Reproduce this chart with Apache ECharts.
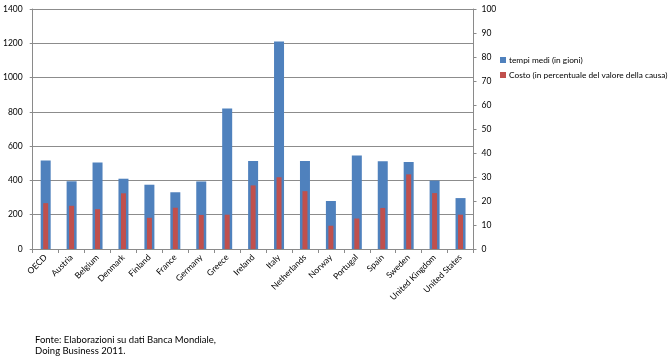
<!DOCTYPE html>
<html>
<head>
<meta charset="utf-8">
<script src="https://cdn.jsdelivr.net/npm/echarts@6/dist/echarts.min.js"></script>
<style>html,body{margin:0;padding:0;background:#fff;}#c{width:671px;height:364px;}</style>
</head>
<body>
<div id="c"></div>
<script>
const categories = ['OECD','Austria','Belgium','Denmark','Finland','France','Germany','Greece','Ireland','Italy','Netherlands','Norway','Portugal','Spain','Sweden','United Kingdom','United States'];
const tempiMedi = [516, 395, 505, 410, 375, 331, 394, 819, 513, 1210, 514, 280, 545, 512, 508, 399, 297];
const costo = [19.1, 18.0, 16.6, 23.2, 13.0, 17.2, 14.2, 14.3, 26.5, 29.9, 24.1, 9.7, 12.7, 17.1, 31.1, 23.3, 14.3];
const leftTicks = {min: 0, max: 1400, interval: 200};
const rightTicks = {min: 0, max: 100, interval: 10};
const sourceLines = ['Fonte: Elaborazioni su dati Banca Mondiale,', 'Doing Business 2011.'];

const FONT = 'Lato';
const chart = echarts.init(document.getElementById('c'));
const axisGray = '#8a8a8a';
chart.setOption({
  animation: false,
  textStyle: {fontFamily: FONT},
  grid: {left: 29.5, right: 197.5, top: 9, bottom: 115, containLabel: false},
  legend: {
    orient: 'vertical', left: 495, top: 51,
    icon: 'rect', itemWidth: 6, itemHeight: 6, itemGap: 7,
    textStyle: {fontFamily: FONT, fontSize: 8.3, color: '#000', padding: [0,0,0,-2]},
    data: ['tempi medi (in gioni)', 'Costo (in percentuale del valore della causa)']
  },
  xAxis: [{
    type: 'category', data: categories,
    axisLine: {lineStyle: {color: axisGray}},
    axisTick: {show: true, length: 4, lineStyle: {color: axisGray}},
    axisLabel: {rotate: 45, fontSize: 8.5, color: '#000', fontFamily: FONT, margin: 7, interval: 0}
  }, {
    type: 'category', data: categories, show: false
  }],
  yAxis: [{
    type: 'value', min: leftTicks.min, max: leftTicks.max, interval: leftTicks.interval,
    axisLine: {show: true, lineStyle: {color: axisGray}},
    axisTick: {show: true, length: 3, lineStyle: {color: axisGray}},
    axisLabel: {fontSize: 8.5, color: '#000', fontFamily: FONT, margin: 10, formatter: v => String(v)},
    splitLine: {lineStyle: {color: '#8c8c8c'}}
  }, {
    type: 'value', min: rightTicks.min, max: rightTicks.max, interval: rightTicks.interval,
    position: 'right',
    axisLine: {show: true, lineStyle: {color: axisGray}},
    axisTick: {show: true, length: 3, lineStyle: {color: axisGray}},
    axisLabel: {fontSize: 8.5, color: '#000', fontFamily: FONT, margin: 8, formatter: v => String(v)},
    splitLine: {show: false}
  }],
  series: [{
    name: 'tempi medi (in gioni)', type: 'bar', data: tempiMedi,
    xAxisIndex: 0, yAxisIndex: 0, barWidth: 10,
    itemStyle: {color: '#4F81BD'}, z: 2
  }, {
    name: 'Costo (in percentuale del valore della causa)', type: 'bar', data: costo,
    xAxisIndex: 1, yAxisIndex: 1, barWidth: 5,
    itemStyle: {color: '#C0504D'}, z: 3
  }],
  graphic: [{
    type: 'text', left: 35, top: 335,
    style: {text: sourceLines[0], font: '9.5px ' + FONT, fill: '#000'}
  }, {
    type: 'text', left: 35, top: 346,
    style: {text: sourceLines[1], font: '9.5px ' + FONT, fill: '#000'}
  }]
});
</script>
</body>
</html>
